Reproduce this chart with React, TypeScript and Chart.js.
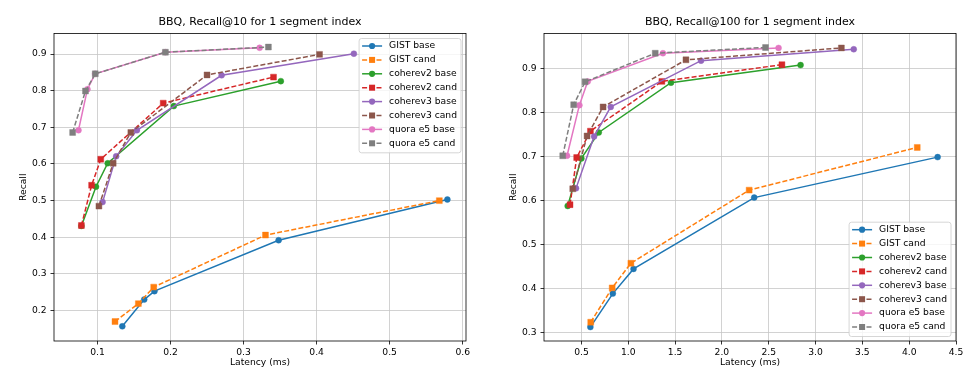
import React, { useEffect, useRef } from 'react';
import { Chart, registerables } from 'chart.js';

Chart.register(...registerables);

// ---------- data ----------
const SERIES_LABELS = [
  'GIST base', 'GIST cand', 'coherev2 base', 'coherev2 cand',
  'coherev3 base', 'coherev3 cand', 'quora e5 base', 'quora e5 cand',
];
const SERIES_COLORS = ['#1f77b4', '#ff7f0e', '#2ca02c', '#d62728', '#9467bd', '#8c564b', '#e377c2', '#7f7f7f'];

// Recall@10 — [latency (ms), recall]
const r10GistBase = [[0.134, 0.157], [0.164, 0.230], [0.178, 0.253], [0.348, 0.392], [0.579, 0.503]];
const r10GistCand = [[0.124, 0.170], [0.156, 0.219], [0.177, 0.264], [0.330, 0.406], [0.568, 0.500]];
const r10Cohere2Base = [[0.078, 0.431], [0.098, 0.538], [0.114, 0.602], [0.2045, 0.758], [0.351, 0.826]];
const r10Cohere2Cand = [[0.078, 0.432], [0.092, 0.542], [0.1045, 0.613], [0.190, 0.766], [0.341, 0.837]];
const r10Cohere3Base = [[0.107, 0.496], [0.1256, 0.621], [0.154, 0.692], [0.270, 0.842], [0.451, 0.901]];
const r10Cohere3Cand = [[0.102, 0.485], [0.1215, 0.602], [0.1457, 0.686], [0.250, 0.843], [0.404, 0.899]];
const r10QuoraBase = [[0.074, 0.692], [0.0863, 0.804], [0.0968, 0.846], [0.193, 0.905], [0.322, 0.917]];
const r10QuoraCand = [[0.066, 0.686], [0.0836, 0.799], [0.097, 0.846], [0.193, 0.905], [0.334, 0.919]];

// Recall@100 — [latency (ms), recall]
const r100GistBase = [[0.595, 0.312], [0.835, 0.388], [1.056, 0.444], [2.345, 0.606], [4.304, 0.698]];
const r100GistCand = [[0.599, 0.323], [0.828, 0.401], [1.028, 0.457], [2.291, 0.623], [4.086, 0.720]];
const r100Cohere2Base = [[0.353, 0.587], [0.499, 0.695], [0.685, 0.754], [1.456, 0.867], [2.840, 0.907]];
const r100Cohere2Cand = [[0.378, 0.590], [0.449, 0.697], [0.596, 0.757], [1.359, 0.870], [2.641, 0.908]];
const r100Cohere3Base = [[0.442, 0.627], [0.635, 0.745], [0.813, 0.812], [1.777, 0.917], [3.408, 0.943]];
const r100Cohere3Cand = [[0.407, 0.626], [0.560, 0.746], [0.731, 0.812], [1.616, 0.919], [3.276, 0.946]];
const r100QuoraBase = [[0.346, 0.701], [0.478, 0.816], [0.567, 0.870], [1.370, 0.934], [2.605, 0.946]];
const r100QuoraCand = [[0.300, 0.701], [0.417, 0.817], [0.539, 0.869], [1.288, 0.934], [2.466, 0.947]];

const R10_SERIES = [r10GistBase, r10GistCand, r10Cohere2Base, r10Cohere2Cand, r10Cohere3Base, r10Cohere3Cand, r10QuoraBase, r10QuoraCand];
const R100_SERIES = [r100GistBase, r100GistCand, r100Cohere2Base, r100Cohere2Cand, r100Cohere3Base, r100Cohere3Cand, r100QuoraBase, r100QuoraCand];

// ticks and axis limits
const R10_X_TICKS = [0.1, 0.2, 0.3, 0.4, 0.5, 0.6];
const R10_Y_TICKS = [0.2, 0.3, 0.4, 0.5, 0.6, 0.7, 0.8, 0.9];
const R100_X_TICKS = [0.5, 1.0, 1.5, 2.0, 2.5, 3.0, 3.5, 4.0, 4.5];
const R100_Y_TICKS = [0.3, 0.4, 0.5, 0.6, 0.7, 0.8, 0.9];
const R10_X_LIM = [0.0405, 0.6045];
const R10_Y_LIM = [0.117, 0.956];
const R100_X_LIM = [0.1, 4.5];
const R100_Y_LIM = [0.2803, 0.9788];

const FONT = '"DejaVu Sans", sans-serif';

// ---------- plugins ----------
const spinePlugin = {
  id: 'mplSpines',
  afterDatasetsDraw(chart: any) {
    const { ctx, chartArea: a } = chart;
    ctx.save();
    ctx.strokeStyle = '#000';
    ctx.lineWidth = 0.8;
    ctx.strokeRect(a.left, a.top, a.right - a.left, a.bottom - a.top);
    ctx.restore();
  },
};

const legendPlugin = {
  id: 'mplLegend',
  afterDraw(chart: any, _args: any, opts: any) {
    const { ctx, chartArea: a } = chart;
    const items = chart.data.datasets;
    ctx.save();
    ctx.font = `9.2px ${FONT}`;
    const maxW = Math.max(...items.map((d: any) => ctx.measureText(d.label).width));
    const rowH = 13.9;
    const w = 30 + maxW + 4;
    const h = 7.5 + (items.length - 1) * rowH + 9.5;
    const x = a.right - 5 - w;
    const y = opts.corner === 'br' ? a.bottom - 4.5 - h : a.top + 5;
    const r = 2.5;
    ctx.beginPath();
    ctx.moveTo(x + r, y);
    ctx.lineTo(x + w - r, y);
    ctx.quadraticCurveTo(x + w, y, x + w, y + r);
    ctx.lineTo(x + w, y + h - r);
    ctx.quadraticCurveTo(x + w, y + h, x + w - r, y + h);
    ctx.lineTo(x + r, y + h);
    ctx.quadraticCurveTo(x, y + h, x, y + h - r);
    ctx.lineTo(x, y + r);
    ctx.quadraticCurveTo(x, y, x + r, y);
    ctx.closePath();
    ctx.fillStyle = 'rgba(255,255,255,0.8)';
    ctx.fill();
    ctx.strokeStyle = '#cccccc';
    ctx.lineWidth = 0.8;
    ctx.stroke();

    items.forEach((d: any, i: number) => {
      const cy = y + 7.5 + i * rowH;
      ctx.strokeStyle = d.borderColor;
      ctx.lineWidth = d.borderWidth;
      ctx.setLineDash(d.borderDash || []);
      ctx.beginPath();
      ctx.moveTo(x + 3, cy);
      ctx.lineTo(x + 23, cy);
      ctx.stroke();
      ctx.setLineDash([]);
      ctx.fillStyle = d.borderColor;
      if (d.pointStyle === 'rect') {
        ctx.fillRect(x + 13 - 3, cy - 3, 6, 6);
      } else {
        ctx.beginPath();
        ctx.arc(x + 13, cy, 3.1, 0, Math.PI * 2);
        ctx.fill();
      }
      ctx.fillStyle = '#000';
      ctx.textAlign = 'left';
      ctx.textBaseline = 'middle';
      ctx.fillText(d.label, x + 30, cy);
    });
    ctx.restore();
  },
};

function makeConfig(title: string, series: number[][][], xTicks: number[], yTicks: number[], xLim: number[], yLim: number[], corner: string) {
  const datasets = series.map((pts, i) => {
    const cand = i % 2 === 1;
    return {
      label: SERIES_LABELS[i],
      data: pts.map(([x, y]) => ({ x, y })),
      borderColor: SERIES_COLORS[i],
      backgroundColor: SERIES_COLORS[i],
      pointBackgroundColor: SERIES_COLORS[i],
      pointBorderColor: SERIES_COLORS[i],
      borderWidth: 1.5,
      borderDash: cand ? [5, 2.2] : [],
      pointStyle: cand ? 'rect' : 'circle',
      pointRadius: cand ? 4.2 : 3,
      pointBorderWidth: 0.4,
      tension: 0,
      fill: false,
      order: series.length - i,
    };
  });
  const grid = {
    color: '#c6c6c6',
    lineWidth: 0.8,
    tickColor: '#000',
    tickWidth: 0.8,
    tickLength: 3.5,
    drawTicks: true,
  };
  return {
    type: 'line',
    data: { datasets },
    options: {
      animation: false,
      responsive: false,
      devicePixelRatio: 1,
      layout: { padding: { left: 0, right: 14, top: 0, bottom: 0 } },
      plugins: {
        legend: { display: false },
        tooltip: { enabled: false },
        title: {
          display: true,
          fullSize: false,
          text: title,
          color: '#000',
          font: { size: 11, family: FONT, weight: 'normal' },
          padding: { top: 16, bottom: 4.3 },
        },
        mplLegend: { corner },
      },
      scales: {
        x: {
          type: 'linear',
          min: xLim[0],
          max: xLim[1],
          afterBuildTicks: (s: any) => { s.ticks = xTicks.map((v) => ({ value: v })); },
          afterFit: (s: any) => { s.height = 45; },
          grid,
          border: { display: false },
          ticks: {
            color: '#000',
            font: { size: 9.2, family: FONT },
            padding: 3,
            maxRotation: 0,
            autoSkip: false,
            callback: (v: number) => v.toFixed(1),
          },
          title: {
            display: true,
            text: 'Latency (ms)',
            color: '#000',
            font: { size: 9.2, family: FONT },
            padding: { top: 0, bottom: 17.5 },
          },
        },
        y: {
          type: 'linear',
          min: yLim[0],
          max: yLim[1],
          afterBuildTicks: (s: any) => { s.ticks = yTicks.map((v) => ({ value: v })); },
          afterFit: (s: any) => { s.width = 54; },
          grid,
          border: { display: false },
          ticks: {
            color: '#000',
            font: { size: 9.2, family: FONT },
            padding: 4,
            autoSkip: false,
            callback: (v: number) => v.toFixed(1),
          },
          title: {
            display: true,
            text: 'Recall',
            color: '#000',
            font: { size: 9.2, family: FONT },
            padding: { top: 18.5, bottom: 0 },
          },
        },
      },
    },
    plugins: [spinePlugin, legendPlugin],
  };
}

function ChartCanvas(props: { config: any; left: number }) {
  const ref = useRef<HTMLCanvasElement | null>(null);
  useEffect(() => {
    if (!ref.current) return;
    const chart = new Chart(ref.current, props.config);
    return () => chart.destroy();
  }, [props.config]);
  return (
    <canvas
      ref={ref}
      width={480}
      height={386}
      style={{ position: 'absolute', left: props.left, top: 0, width: 480, height: 386, display: 'block' }}
    />
  );
}

const CONFIG_R10 = makeConfig('BBQ, Recall@10 for 1 segment index', R10_SERIES, R10_X_TICKS, R10_Y_TICKS, R10_X_LIM, R10_Y_LIM, 'tr');
const CONFIG_R100 = makeConfig('BBQ, Recall@100 for 1 segment index', R100_SERIES, R100_X_TICKS, R100_Y_TICKS, R100_X_LIM, R100_Y_LIM, 'br');

export default function App() {
  return (
    <div style={{ position: 'absolute', left: 0, top: 0, width: 979, height: 386, background: '#fff', overflow: 'hidden' }}>
      <ChartCanvas config={CONFIG_R10} left={0} />
      <ChartCanvas config={CONFIG_R100} left={490} />
    </div>
  );
}
